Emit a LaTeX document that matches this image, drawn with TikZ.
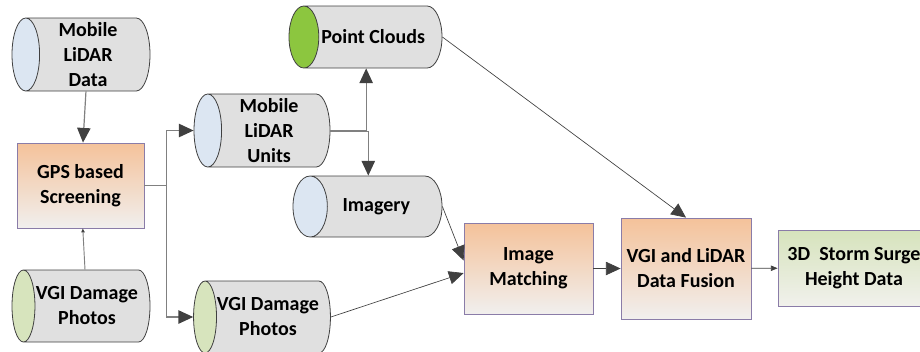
\documentclass[tikz,border=0pt]{standalone}
\usepackage{fontspec}
\setmainfont{Carlito}
\usetikzlibrary{shapes.geometric,arrows.meta}
\definecolor{bodygray}{HTML}{E0E0E0}
\definecolor{edgegray}{HTML}{404040}
\definecolor{linegray}{HTML}{808080}
\definecolor{endblue}{HTML}{DCE6F2}
\definecolor{endgreen}{HTML}{8CC63F}
\definecolor{endolive}{HTML}{D7E4BD}
\definecolor{boxedge}{HTML}{8A7CA8}
\definecolor{orangetop}{HTML}{F4C29A}
\definecolor{orangebot}{HTML}{F1EFEE}
\definecolor{greentop}{HTML}{D6E3BC}
\definecolor{greenbot}{HTML}{F1F1EC}
\tikzset{
  label font/.style={font=\fontsize{15}{18.75}\selectfont\bfseries},
  store/.style={cylinder, shape border rotate=180, aspect=0.43, anchor=shape center,
    draw=edgegray, line width=0.6pt, cylinder uses custom fill,
    cylinder body fill=bodygray, cylinder end fill=endblue, inner sep=0pt,
    align=center, label font},
  stepbox/.style={rectangle, draw=boxedge, line width=0.6pt, top color=orangetop,
    bottom color=orangebot, inner sep=0pt, align=center, label font},
  bigtip/.style={-{Triangle[length=11pt,width=10pt,color=edgegray]}},
  elbow/.style={draw=linegray, line width=0.9pt, bigtip},
  link/.style={draw=edgegray, line width=0.5pt, bigtip}
}
\begin{document}
\begin{tikzpicture}[x=0.75pt, y=-0.75pt]
  \useasboundingbox (0,0) rectangle (920,351);
  % data sources
  \node[store, minimum height=103.5pt, minimum width=54.75pt] (lidardata) at (81,54.5) {Mobile\\LiDAR\\Data};
  \node[stepbox, minimum width=95.25pt, minimum height=63.75pt] (gps) at (80.5,185.5) {GPS based\\Screening};
  \node[store, aspect=0.6, cylinder end fill=endolive, minimum height=103.5pt, minimum width=54pt] (vgileft) at (81,306) {VGI Damage\\Photos};
  % screened data
  \node[store, minimum height=102pt, minimum width=54.75pt] (units) at (262,130.5) {Mobile\\LiDAR\\Units};
  \node[store, aspect=0.6, cylinder end fill=endolive, minimum height=102pt, minimum width=54pt] (vgimid) at (262,317) {VGI Damage\\Photos};
  \node[store, aspect=2.1, cylinder end fill=endgreen, minimum height=114.75pt, minimum width=46.5pt] (clouds) at (365.5,37) {Point Clouds};
  \node[store, aspect=2.1, minimum height=111.75pt, minimum width=45.75pt] (imagery) at (367.5,206.5) {Imagery};
  % processing
  \node[stepbox, minimum width=96.75pt, minimum height=68.25pt] (matching) at (528.5,268.5) {Image\\Matching};
  \node[stepbox, minimum width=97.5pt, minimum height=75.75pt] (fusion) at (686,268.5) {VGI and LiDAR\\Data Fusion};
  \node[stepbox, top color=greentop, bottom color=greenbot, minimum width=114pt, minimum height=57pt] (storm) at (854,268) {3D~ Storm Surge\\Height Data};
  % connectors
  \draw[elbow] (lidardata) -- (gps);
  \draw[draw=linegray, line width=0.7pt, -{Triangle[length=3pt,width=2.5pt,color=edgegray]}] (vgileft) -- (gps);
  \draw[elbow] (gps.east) -- ++(22,0) |- (units);
  \draw[elbow] (gps.east) -- ++(22,0) |- (vgimid);
  \draw[elbow] (units.0) -| ([xshift=-5.25pt]clouds.south);
  \draw[elbow] ([yshift=-0.9pt]units.0) -| ([xshift=-6pt]imagery.north);
  \draw[link] (clouds.0) -- (fusion.north);
  \draw[link] (imagery.0) -- ([yshift=6pt]matching.west);
  \draw[link] (vgimid.0) -- ([yshift=-3.4pt]matching.west);
  \draw[link] (matching) -- (fusion);
  \draw[draw=edgegray, line width=0.5pt, -{Triangle[length=5pt,width=4pt]}] (fusion) -- (storm);
\end{tikzpicture}
\end{document}
